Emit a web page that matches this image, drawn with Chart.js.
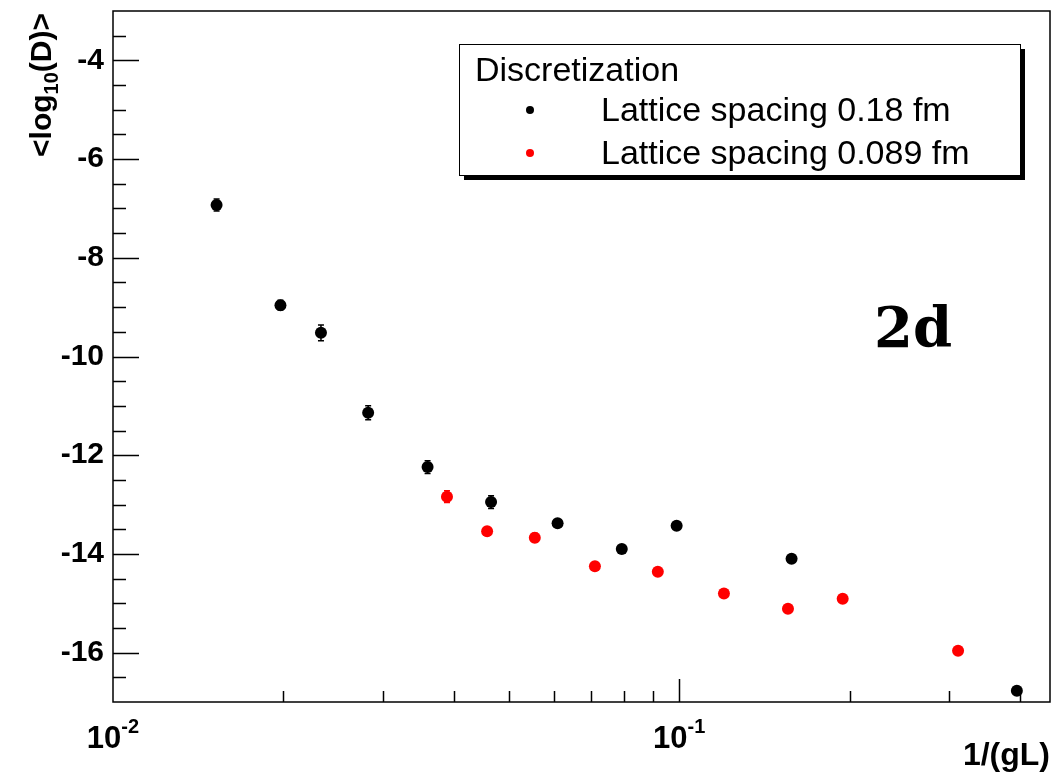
<!DOCTYPE html>
<html>
<head>
  <title>2d discretization</title>
  <script src="https://cdn.jsdelivr.net/npm/chart.js"></script>
  <style>
    body { margin: 0; background: #fff; }
    canvas { display: block; }
  </style>
</head>
<body>
<canvas id="chart" width="1056" height="777"></canvas>
<script>
// data
var legendTitle = "Discretization";
var seriesNames = ["Lattice spacing 0.18 fm", "Lattice spacing 0.089 fm"];
var coarseX = [0.01524, 0.01976, 0.0233, 0.02823, 0.03595, 0.04654, 0.0610, 0.0792, 0.0990, 0.158, 0.395];
var coarseY = [-6.93, -8.96, -9.52, -11.14, -12.24, -12.95, -13.38, -13.90, -13.43, -14.10, -16.77];
var coarseErr = [0.12, 0.10, 0.16, 0.14, 0.13, 0.13, 0.05, 0.04, 0.04, 0.04, 0.04];
var fineX = [0.0389, 0.0458, 0.0556, 0.0710, 0.0917, 0.120, 0.1557, 0.1945, 0.311];
var fineY = [-12.84, -13.54, -13.67, -14.25, -14.36, -14.80, -15.11, -14.91, -15.96];
var fineErr = [0.12, 0.07, 0.09, 0.04, 0.04, 0.04, 0.04, 0.04, 0.04];
var yTicks = [-16, -14, -12, -10, -8, -6, -4];
var xTicks = [0.01, 0.1];
var xTickExp = ["-2", "-1"];
var xTitle = "1/(gL)";
var panelTag = "2d";

var SANS = "'Liberation Sans', Arial, Helvetica, sans-serif";

function toPoints(xs, ys, es) {
  return xs.map(function (x, i) { return { x: x, y: ys[i], err: es[i] }; });
}

// ROOT style frame, ticks, titles, legend
var rootStyle = {
  id: "rootStyle",
  beforeDatasetsDraw: function (chart) {
    var ctx = chart.ctx, xs = chart.scales.x, ys = chart.scales.y;
    ctx.save();
    ctx.lineWidth = 1.5;
    chart.data.datasets.forEach(function (ds) {
      ctx.strokeStyle = ds.backgroundColor;
      ds.data.forEach(function (p) {
        var px = xs.getPixelForValue(p.x);
        var y1 = ys.getPixelForValue(p.y + p.err);
        var y2 = ys.getPixelForValue(p.y - p.err);
        ctx.beginPath();
        ctx.moveTo(px, y1); ctx.lineTo(px, y2);
        ctx.moveTo(px - 3, y1); ctx.lineTo(px + 3, y1);
        ctx.moveTo(px - 3, y2); ctx.lineTo(px + 3, y2);
        ctx.stroke();
      });
    });
    ctx.restore();
  },
  afterDraw: function (chart) {
    var ctx = chart.ctx, a = chart.chartArea;
    var xs = chart.scales.x, ys = chart.scales.y;
    ctx.save();
    ctx.strokeStyle = "#000";
    ctx.fillStyle = "#000";
    ctx.lineWidth = 1.5;
    ctx.strokeRect(a.left, a.top, a.right - a.left, a.bottom - a.top);

    // y ticks, inside the frame
    ctx.beginPath();
    for (var v = ys.min + 0.5; v < ys.max; v += 0.5) {
      var py = Math.round(ys.getPixelForValue(v)) + 0.5;
      var len = (Math.abs(v % 2) === 0) ? 26 : 13;
      ctx.moveTo(a.left, py); ctx.lineTo(a.left + len, py);
    }
    // x ticks, log decades
    for (var d = 0.01; d < xs.max; d *= 10) {
      for (var k = 1; k <= 9; k++) {
        var xv = d * k;
        if (xv <= xs.min || xv >= xs.max) continue;
        var px = Math.round(xs.getPixelForValue(xv)) + 0.5;
        var l = (k === 1) ? 23 : 11;
        ctx.moveTo(px, a.bottom); ctx.lineTo(px, a.bottom - l);
      }
    }
    ctx.stroke();

    // x tick labels 10^n
    ctx.textBaseline = "alphabetic";
    ctx.textAlign = "left";
    xTicks.forEach(function (t, i) {
      var px = xs.getPixelForValue(t);
      ctx.font = "bold 31px " + SANS;
      var w1 = ctx.measureText("10").width;
      ctx.font = "bold 20px " + SANS;
      var w2 = ctx.measureText(xTickExp[i]).width;
      var x0 = px - (w1 + w2) / 2;
      ctx.font = "bold 31px " + SANS;
      ctx.fillText("10", x0, 748);
      ctx.font = "bold 20px " + SANS;
      ctx.fillText(xTickExp[i], x0 + w1, 733);
    });

    // x title
    ctx.font = "bold 32px " + SANS;
    ctx.textAlign = "right";
    ctx.fillText(xTitle, a.right, 765);

    // y title, rotated, with subscript
    var parts = [["<log", 30, 0], ["10", 20, 7], ["(D)>", 30, 0]];
    var total = 0;
    parts.forEach(function (p) {
      ctx.font = "bold " + p[1] + "px " + SANS;
      p.push(ctx.measureText(p[0]).width);
      total += p[3];
    });
    ctx.save();
    ctx.translate(51, 13);
    ctx.rotate(-Math.PI / 2);
    ctx.textAlign = "left";
    var cx = -total;
    parts.forEach(function (p) {
      ctx.font = "bold " + p[1] + "px " + SANS;
      ctx.fillText(p[0], cx, p[2]);
      cx += p[3];
    });
    ctx.restore();

    // panel tag
    ctx.font = "bold 56px 'DejaVu Serif', serif";
    ctx.textAlign = "left";
    ctx.fillText(panelTag, 874, 347);

    // legend box with shadow
    var bx = 459, by = 44, bw = 561, bh = 131;
    ctx.fillStyle = "#000";
    ctx.fillRect(bx + 5, by + 5, bw, bh);
    ctx.fillStyle = "#fff";
    ctx.fillRect(bx, by, bw, bh);
    ctx.lineWidth = 1;
    ctx.strokeStyle = "#000";
    ctx.strokeRect(bx + 0.5, by + 0.5, bw, bh);
    ctx.fillStyle = "#000";
    ctx.font = "34px " + SANS;
    ctx.textAlign = "left";
    ctx.fillText(legendTitle, 475, 81);
    chart.data.datasets.forEach(function (ds, i) {
      var ly = 110 + i * 43;
      ctx.fillStyle = ds.backgroundColor;
      ctx.beginPath();
      ctx.arc(530, ly, 4, 0, Math.PI * 2);
      ctx.fill();
      ctx.fillStyle = "#000";
      ctx.fillText(ds.label, 601, ly + 11);
    });
    ctx.restore();
  }
};

var ctx = document.getElementById("chart").getContext("2d");
var chart = new Chart(ctx, {
  type: "scatter",
  data: {
    datasets: [
      {
        label: seriesNames[0],
        data: toPoints(coarseX, coarseY, coarseErr),
        backgroundColor: "#000000",
        borderColor: "#000000",
        pointRadius: 6,
        pointBorderWidth: 0
      },
      {
        label: seriesNames[1],
        data: toPoints(fineX, fineY, fineErr),
        backgroundColor: "#ff0000",
        borderColor: "#ff0000",
        pointRadius: 6,
        pointBorderWidth: 0
      }
    ]
  },
  options: {
    responsive: false,
    animation: false,
    layout: { padding: { top: 11, right: 3, bottom: 75, left: 0 } },
    plugins: { legend: { display: false }, tooltip: { enabled: false } },
    scales: {
      x: {
        type: "logarithmic",
        min: 0.01,
        max: 0.452,
        display: false
      },
      y: {
        type: "linear",
        min: -17,
        max: -3,
        grid: { display: false, drawTicks: false },
        border: { display: false },
        ticks: {
          color: "#000",
          padding: 9,
          font: { family: SANS, weight: "bold", size: 30 }
        },
        afterBuildTicks: function (axis) {
          axis.ticks = yTicks.map(function (v) { return { value: v }; });
        },
        afterFit: function (axis) {
          axis.width = 113;
          axis.paddingTop = 0;
          axis.paddingBottom = 0;
        }
      }
    }
  },
  plugins: [rootStyle]
});
</script>
</body>
</html>
